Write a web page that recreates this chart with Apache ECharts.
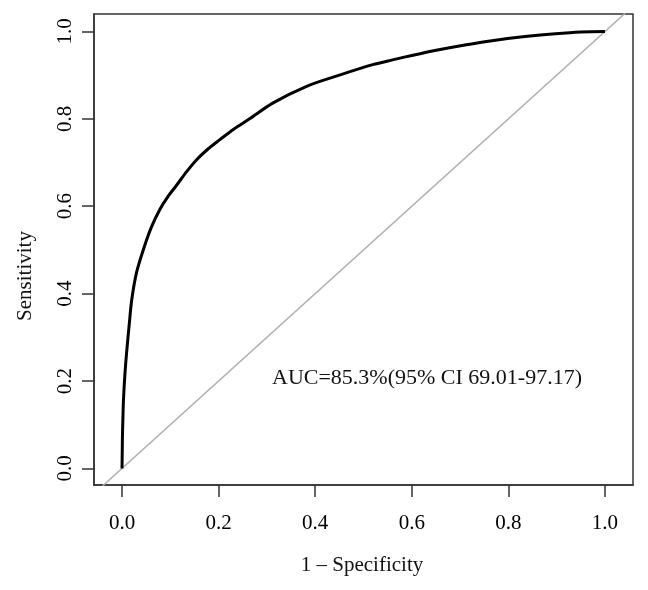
<!DOCTYPE html>
<html>
<head>
<meta charset="utf-8">
<script src="https://cdn.jsdelivr.net/npm/echarts@6/dist/echarts.min.js"></script>
<style>html,body{margin:0;padding:0;background:#fff}#c{width:648px;height:590px}</style>
</head>
<body>
<div id="c"></div>
<script>
var fpr = [0, 0.0005, 0.001, 0.002, 0.003, 0.006, 0.010, 0.015, 0.020, 0.030, 0.044, 0.060, 0.078, 0.095, 0.113, 0.133, 0.154, 0.178, 0.202, 0.232, 0.264, 0.312, 0.381, 0.45, 0.519, 0.560, 0.600, 0.656, 0.710, 0.766, 0.830, 0.897, 0.950, 1.0];
var tpr = [0, 0.04, 0.08, 0.12, 0.156, 0.215, 0.271, 0.330, 0.385, 0.448, 0.500, 0.550, 0.592, 0.622, 0.648, 0.678, 0.706, 0.731, 0.752, 0.777, 0.800, 0.836, 0.874, 0.900, 0.924, 0.935, 0.945, 0.958, 0.969, 0.979, 0.988, 0.995, 0.999, 1.0];
var diagX = [-0.1, 1.1];
var diagY = [-0.1, 1.1];
var tickValues = [0, 0.2, 0.4, 0.6, 0.8, 1.0];
var xTitle = '1 \u2013 Specificity';
var yTitle = 'Sensitivity';
var aucText = 'AUC=85.3%(95% CI 69.01-97.17)';

var FONT = '"Liberation Serif", "DejaVu Serif", serif';
var chart = echarts.init(document.getElementById('c'));
function pairs(a, b) { return a.map(function (v, i) { return [v, b[i]]; }); }
chart.setOption({
  backgroundColor: '#fff',
  animation: false,
  grid: { left: 94, right: 15, top: 14, bottom: 105, show: true, borderColor: '#333', borderWidth: 1.5, backgroundColor: 'transparent' },
  xAxis: {
    type: 'value', min: -0.058, max: 1.058,
    axisLine: { show: true, onZero: false, lineStyle: { color: '#333', width: 1.5 } },
    axisTick: { show: true, length: 12, customValues: tickValues, lineStyle: { color: '#333', width: 1.5 } },
    axisLabel: { customValues: tickValues, margin: 28, fontFamily: FONT, fontSize: 21, color: '#000', formatter: function (v) { return v.toFixed(1); } },
    splitLine: { show: false }
  },
  yAxis: {
    type: 'value', min: -0.038, max: 1.04,
    axisLine: { show: true, onZero: false, lineStyle: { color: '#333', width: 1.5 } },
    axisTick: { show: true, length: 12, customValues: tickValues, lineStyle: { color: '#333', width: 1.5 } },
    axisLabel: { customValues: tickValues, rotate: 90, margin: 18, fontFamily: FONT, fontSize: 21, color: '#000', formatter: function (v) { return v.toFixed(1); } },
    splitLine: { show: false }
  },
  series: [
    { type: 'line', data: pairs(diagX, diagY), symbol: 'none', lineStyle: { color: '#b0b0b0', width: 1.5 }, clip: true, silent: true, z: 2 },
    { type: 'line', data: pairs(fpr, tpr), symbol: 'none', smooth: 0.3, lineStyle: { color: '#000', width: 3 }, z: 3 }
  ],
  graphic: [
    { type: 'text', left: 272, top: 367, style: { text: aucText, font: '22px ' + FONT, fill: '#111' } },
    { type: 'text', x: 362, y: 565, style: { text: xTitle, font: '21px ' + FONT, fill: '#111', textAlign: 'center', textVerticalAlign: 'middle' } },
    { type: 'text', x: 25, y: 276, rotation: Math.PI / 2, style: { text: yTitle, font: '21px ' + FONT, fill: '#111', textAlign: 'center', textVerticalAlign: 'middle' } }
  ]
});
</script>
</body>
</html>
